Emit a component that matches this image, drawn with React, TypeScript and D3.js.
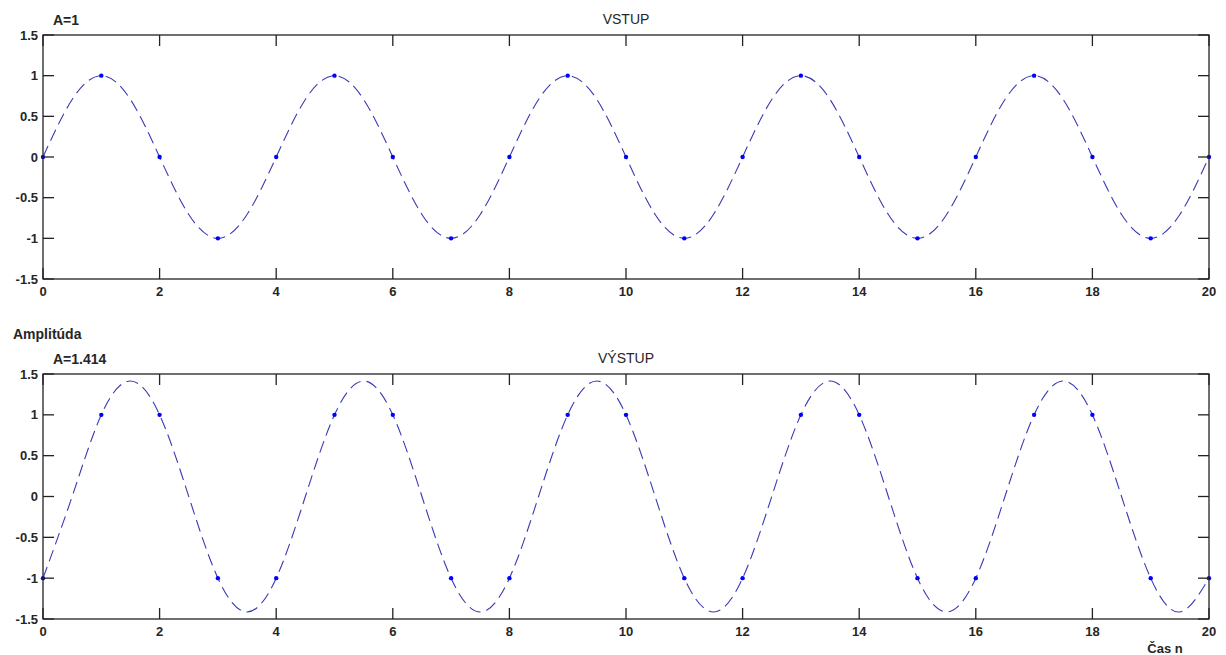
import React from "react";
import * as d3 from "d3";

const sampleN = [0,1,2,3,4,5,6,7,8,9,10,11,12,13,14,15,16,17,18,19,20];
const inputSamples = [0,1,0,-1,0,1,0,-1,0,1,0,-1,0,1,0,-1,0,1,0,-1,0];
const outputSamples = [-1,1,1,-1,-1,1,1,-1,-1,1,1,-1,-1,1,1,-1,-1,1,1,-1,-1];

const curveN = [0,0.5,1,1.5,2,2.5,3,3.5,4,4.5,5,5.5,6,6.5,7,7.5,8,8.5,9,9.5,10,10.5,11,11.5,12,12.5,13,13.5,14,14.5,15,15.5,16,16.5,17,17.5,18,18.5,19,19.5,20];
const inputCurve = [0,0.707,1,0.707,0,-0.707,-1,-0.707,0,0.707,1,0.707,0,-0.707,-1,-0.707,0,0.707,1,0.707,0,-0.707,-1,-0.707,0,0.707,1,0.707,0,-0.707,-1,-0.707,0,0.707,1,0.707,0,-0.707,-1,-0.707,0];
const outputCurve = [-1,0,1,1.414,1,0,-1,-1.414,-1,0,1,1.414,1,0,-1,-1.414,-1,0,1,1.414,1,0,-1,-1.414,-1,0,1,1.414,1,0,-1,-1.414,-1,0,1,1.414,1,0,-1,-1.414,-1];

const xTicks = [0,2,4,6,8,10,12,14,16,18,20];
const yTicks = [-1.5,-1,-0.5,0,0.5,1,1.5];

const panels = [
  { title: "VSTUP", note: "A=1", samples: inputSamples, curve: inputCurve, top: 35, bottom: 279 },
  { title: "VÝSTUP", note: "A=1.414", samples: outputSamples, curve: outputCurve, top: 374, bottom: 619 },
];

const W = 1226, H = 655;
const LEFT = 43, RIGHT = 1209;
const FONT = "Arial, 'Liberation Sans', sans-serif";
const TXT = "#262626";

function Panel({ p }: { p: typeof panels[number] }) {
  const x = d3.scaleLinear().domain([0, 20]).range([LEFT, RIGHT]);
  const y = d3.scaleLinear().domain([-1.5, 1.5]).range([p.bottom, p.top]);
  const line = d3.line<number>()
    .x((_, i) => x(curveN[i]))
    .y((d) => y(d))
    .curve(d3.curveNatural);
  const tl = 11;
  return (
    <g>
      <rect x={LEFT} y={p.top} width={RIGHT - LEFT} height={p.bottom - p.top} fill="#fff" stroke="none" />
      <path d={line(p.curve) || ""} fill="none" stroke="#3a3ab4" strokeWidth={1.1} strokeDasharray="12,6" />
      {p.samples.map((v, i) => (
        <circle key={i} cx={x(sampleN[i])} cy={y(v)} r={2.2} fill="#0000ff" />
      ))}
      {xTicks.map((t) => (
        <g key={"x" + t}>
          <line x1={x(t)} x2={x(t)} y1={p.bottom} y2={p.bottom - tl} stroke="#222" strokeWidth={1.3} />
          <line x1={x(t)} x2={x(t)} y1={p.top} y2={p.top + tl} stroke="#222" strokeWidth={1.3} />
          <text x={x(t)} y={p.bottom + 17} textAnchor="middle" fontFamily={FONT} fontWeight="bold" fontSize={13} fill={TXT}>{t}</text>
        </g>
      ))}
      {yTicks.map((t) => (
        <g key={"y" + t}>
          <line x1={LEFT} x2={LEFT + tl} y1={y(t)} y2={y(t)} stroke="#222" strokeWidth={1.3} />
          <line x1={RIGHT} x2={RIGHT - tl} y1={y(t)} y2={y(t)} stroke="#222" strokeWidth={1.3} />
          <text x={LEFT - 5} y={y(t) + 4.5} textAnchor="end" fontFamily={FONT} fontWeight="bold" fontSize={13} fill={TXT}>{t}</text>
        </g>
      ))}
      <rect x={LEFT} y={p.top} width={RIGHT - LEFT} height={p.bottom - p.top} fill="none" stroke="#222" strokeWidth={1.3} />
      <text x={53} y={p.top - 10} fontFamily={FONT} fontWeight="bold" fontSize={14} fill={TXT}>{p.note}</text>
      <text x={(LEFT + RIGHT) / 2} y={p.top - 11} textAnchor="middle" fontFamily={FONT} fontSize={14} fill={TXT}>{p.title}</text>
    </g>
  );
}

export default function App() {
  return (
    <svg width={W} height={H} style={{ position: "absolute", left: 0, top: 0, background: "#fff" }}>
      <rect width={W} height={H} fill="#fff" />
      {panels.map((p, i) => <Panel key={i} p={p} />)}
      <text x={13} y={339} fontFamily={FONT} fontWeight="bold" fontSize={14} fill={TXT}>Amplitúda</text>
      <text x={1165} y={653} textAnchor="middle" fontFamily={FONT} fontWeight="bold" fontSize={13} fill={TXT}>Čas n</text>
    </svg>
  );
}
